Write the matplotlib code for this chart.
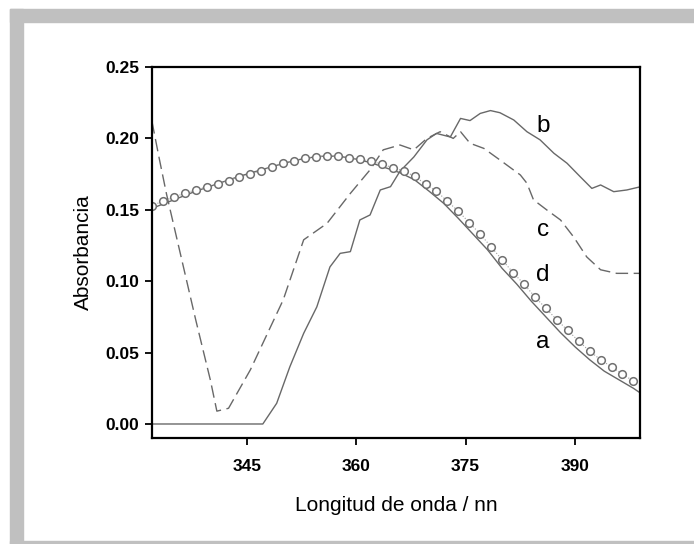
import numpy as np
import matplotlib
matplotlib.use("Agg")
import matplotlib.pyplot as plt
from matplotlib.patches import Rectangle

plt.rcParams['font.family'] = ['Liberation Sans', 'DejaVu Sans']

# curve a (solid, smooth)
a_x = [332, 334, 336, 338, 340, 342, 344, 346, 348, 350, 352, 354, 356, 358,
       360, 362, 364, 366, 368, 370, 372, 374, 376, 378, 380, 382, 384, 386,
       388, 390, 392, 394, 396, 398, 399]
a_y = [0.151, 0.155, 0.159, 0.163, 0.1665, 0.170, 0.1735, 0.1765, 0.1795,
       0.1825, 0.185, 0.1868, 0.1878, 0.1872, 0.1855, 0.183, 0.1795, 0.176,
       0.171, 0.163, 0.1545, 0.144, 0.133, 0.122, 0.109, 0.098, 0.086, 0.075,
       0.064, 0.054, 0.045, 0.037, 0.031, 0.025, 0.0215]

# curve b (solid, noisy)
b_x = [332, 347.2, 349.1, 350.9, 352.8, 354.6, 356.4, 357.8, 359.2, 360.5,
       361.9, 363.3, 364.7, 366.0, 367.9, 369.7, 371.0, 372.9, 374.3, 375.6,
       377.0, 378.4, 379.7, 381.6, 383.4, 385.2, 387.1, 388.9, 390.7, 392.3,
       393.5, 395.3, 397.1, 399]
b_y = [0, 0, 0.0145, 0.040, 0.0635, 0.082, 0.110, 0.1195, 0.1207, 0.1429,
       0.1464, 0.1639, 0.1662, 0.177, 0.187, 0.199, 0.2035, 0.201, 0.214,
       0.2125, 0.2175, 0.2195, 0.218, 0.2129, 0.2047, 0.199, 0.1896, 0.1826,
       0.1732, 0.165, 0.1674, 0.1627, 0.1639, 0.1662]

# curve c (dashed)
c_x = [332, 333, 334, 335, 336, 337, 338, 339, 340, 340.9, 342.5, 345.5,
       350.0, 352.8, 356.0, 359.2, 361.9, 363.7, 366.0, 367.9, 369.7, 371.5,
       373.3, 374.3, 375.6, 377.5, 379.7, 382.5, 383.4, 384.3, 386.1, 388.0,
       389.8, 391.6, 393.5, 395.7, 399]
c_y = [0.212, 0.186, 0.161, 0.139, 0.117, 0.095, 0.073, 0.052, 0.031, 0.009,
       0.011, 0.038, 0.087, 0.129, 0.1405, 0.1615, 0.178, 0.192, 0.1954,
       0.192, 0.200, 0.2047, 0.200, 0.2047, 0.1966, 0.193, 0.1849, 0.1744,
       0.1686, 0.157, 0.150, 0.1429, 0.131, 0.117, 0.108, 0.1055, 0.1055]

# curve d (open circles, every 1.5 nm)
d_x = np.arange(332, 398.1, 1.5)
d_y = [0.153, 0.156, 0.159, 0.1615, 0.164, 0.166, 0.168, 0.1705, 0.173,
       0.175, 0.1775, 0.180, 0.1825, 0.1845, 0.186, 0.187, 0.1878, 0.1875,
       0.1865, 0.1855, 0.184, 0.182, 0.1795, 0.1772, 0.1735, 0.168, 0.163,
       0.156, 0.149, 0.141, 0.133, 0.124, 0.115, 0.106, 0.098, 0.089, 0.081,
       0.073, 0.0655, 0.058, 0.051, 0.045, 0.040, 0.035, 0.030]

labels = ['b', 'c', 'd', 'a']
label_y = [0.209, 0.136, 0.104, 0.0576]

fig = plt.figure(figsize=(6.94, 5.44), dpi=100)

# gray frame around the picture
gray = '#c0c0c0'
for (x0, y0, w, h) in [(10, 522, 684, 13), (10, 0, 13, 535), (10, 0, 684, 3)]:
    fig.add_artist(Rectangle((x0, y0), w, h, transform=None, color=gray, zorder=0))

ax = fig.add_axes([0.2186, 0.1954, 0.7036, 0.6814])
lc = '#686868'
ax.plot(a_x, a_y, color=lc, lw=1.0)
ax.plot(b_x, b_y, color=lc, lw=1.0)
ax.plot(c_x, c_y, color=lc, lw=1.0, dashes=(9, 4))
ax.plot(d_x, d_y, ls=':', color='#a0a0a0', lw=0.8, marker='o', ms=5.5,
        mfc='white', mec='#707070', mew=1.1)

for lab, ly in zip(labels, label_y):
    ax.text(385.6, ly, lab, fontsize=17.5, ha='center', va='center')

ax.set_xlim(331.97, 398.9)
ax.set_ylim(-0.0096, 0.25)
ax.set_xticks([345, 360, 375, 390])
ax.set_yticks(np.arange(0, 0.26, 0.05))
ax.yaxis.set_major_formatter(matplotlib.ticker.FormatStrFormatter('%.2f'))
ax.tick_params(direction='out', length=5, width=1.3, labelsize=12.5)
ax.tick_params(axis='x', pad=10)
ax.tick_params(axis='y', pad=4)
for t in ax.get_xticklabels() + ax.get_yticklabels():
    t.set_fontweight('bold')
for s in ax.spines.values():
    s.set_linewidth(1.6)
ax.set_xlabel('Longitud de onda / nn', fontsize=15, labelpad=16)
ax.set_ylabel('Absorbancia', fontsize=15, labelpad=9)

fig.savefig('out.png', dpi=100)
